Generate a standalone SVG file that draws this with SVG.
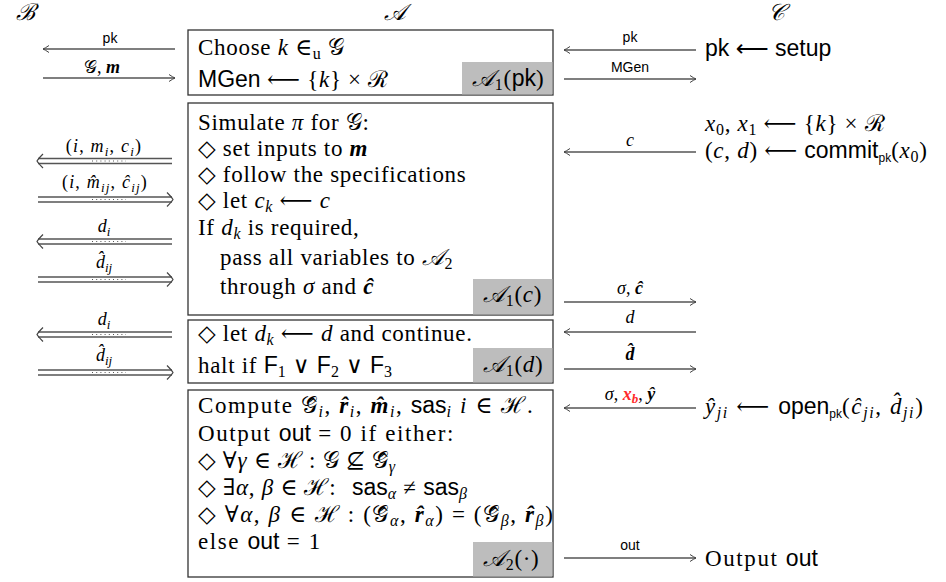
<svg xmlns="http://www.w3.org/2000/svg" width="946" height="582" viewBox="0 0 946 582">
<style>
.rm{font-family:"Liberation Serif","DejaVu Serif",serif;font-size:23px;letter-spacing:0.7px;fill:#000}
.wide{letter-spacing:1.6px}
.sf{font-family:"Liberation Sans","DejaVu Sans",sans-serif;letter-spacing:0}
.it{font-style:italic}
.bi{font-style:italic;font-weight:bold}
.cal{font-family:"DejaVu Serif","Liberation Serif",serif;font-style:italic}
.box{fill:#fff;stroke:#333;stroke-width:1.3}
.tag{fill:#bdbdbd}
.ln{stroke:#555;stroke-width:1.3;fill:none}
.lbl{font-family:"Liberation Serif","DejaVu Serif",serif;font-size:18px;text-anchor:middle}
.slbl{font-family:"Liberation Sans","DejaVu Sans",sans-serif;font-size:14px;text-anchor:middle}
.hd{stroke:#444;stroke-width:1.2;fill:none}
.dots{stroke:#555;stroke-width:1;stroke-dasharray:1 3.2}
</style>
<defs>
<marker id="ar" viewBox="-8 -5 10 10" refX="0" refY="0" markerWidth="10" markerHeight="10" markerUnits="userSpaceOnUse" orient="auto">
<path d="M-6,-3.5 Q-2,-0.8 0,0 Q-2,0.8 -6,3.5" fill="none" stroke="#444" stroke-width="1"/>
</marker>
<path id="dhl" d="M6,-7 Q1.5,-2.5 0,0 Q1.5,2.5 6,7"/>
<path id="dhr" d="M-6,-7 Q-1.5,-2.5 0,0 Q-1.5,2.5 -6,7"/>
</defs>

<g id="headers" class="rm">
<text x="16" y="20" class="cal" font-size="23">ℬ</text>
<text x="395" y="20" class="cal" font-size="23" text-anchor="middle">𝒜</text>
<text x="777" y="20" class="cal" font-size="23" text-anchor="middle">𝒞</text>
</g>

<g id="box1">
<rect class="box" x="188" y="30" width="365" height="65"/>
<rect class="tag" x="462" y="62" width="90.4" height="32.4"/>
<text class="rm" x="198" y="55">Choose <tspan class="it">k</tspan> ∈<tspan font-size="16" dy="4">u</tspan><tspan dy="-4"> 𝒢</tspan></text>
<text class="rm" x="198" y="87"><tspan class="sf">MGen</tspan> ⟵ {<tspan class="it">k</tspan>} × ℛ</text>
<text class="rm" x="472" y="86"><tspan class="cal">𝒜</tspan><tspan font-size="16" dy="4">1</tspan><tspan dy="-4">(</tspan><tspan class="sf">pk</tspan>)</text>
</g>

<g id="box2">
<rect class="box" x="188" y="103" width="365" height="212"/>
<rect class="tag" x="473" y="279" width="79.4" height="35.4"/>
<text class="rm" x="198" y="130">Simulate <tspan class="it">π</tspan> for 𝒢:</text>
<text class="rm" x="198" y="156">◇ set inputs to <tspan class="bi">m</tspan></text>
<text class="rm" x="198" y="182">◇ follow the specifications</text>
<text class="rm" x="198" y="208">◇ let <tspan class="it">c</tspan><tspan class="it" font-size="16" dy="4">k</tspan><tspan dy="-4"> ⟵ </tspan><tspan class="it">c</tspan></text>
<text class="rm" x="198" y="235">If <tspan class="it">d</tspan><tspan class="it" font-size="16" dy="4">k</tspan><tspan dy="-4"> is required,</tspan></text>
<text class="rm" x="220" y="265">pass all variables to <tspan class="cal">𝒜</tspan><tspan font-size="16" dy="4">2</tspan></text>
<text class="rm" x="220" y="294">through <tspan class="it">σ</tspan> and <tspan class="bi">ĉ</tspan></text>
<text class="rm" x="483" y="302"><tspan class="cal">𝒜</tspan><tspan font-size="16" dy="4">1</tspan><tspan dy="-4">(</tspan><tspan class="it">c</tspan>)</text>
</g>

<g id="box3">
<rect class="box" x="188" y="320" width="365" height="63"/>
<rect class="tag" x="473" y="348" width="79.4" height="34.4"/>
<text class="rm" x="198" y="341">◇ let <tspan class="it">d</tspan><tspan class="it" font-size="16" dy="4">k</tspan><tspan dy="-4"> ⟵ </tspan><tspan class="it">d</tspan> and continue.</text>
<text class="rm" x="198" y="373">halt if <tspan class="sf">F</tspan><tspan font-size="16" dy="4">1</tspan><tspan dy="-4"> ∨ </tspan><tspan class="sf">F</tspan><tspan font-size="16" dy="4">2</tspan><tspan dy="-4"> ∨ </tspan><tspan class="sf">F</tspan><tspan font-size="16" dy="4">3</tspan></text>
<text class="rm" x="483" y="372"><tspan class="cal">𝒜</tspan><tspan font-size="16" dy="4">1</tspan><tspan dy="-4">(</tspan><tspan class="it">d</tspan>)</text>
</g>

<g id="box4">
<rect class="box" x="188" y="390" width="365" height="187"/>
<rect class="tag" x="473" y="542" width="79.4" height="34.4"/>
<text class="rm wide" x="198" y="413">Compute 𝒢̂<tspan class="it" font-size="16" dy="4">i</tspan><tspan dy="-4">, </tspan><tspan class="bi">r̂</tspan><tspan class="it" font-size="16" dy="4">i</tspan><tspan dy="-4">, </tspan><tspan class="bi">m̂</tspan><tspan class="it" font-size="16" dy="4">i</tspan><tspan dy="-4">, </tspan><tspan class="sf">sas</tspan><tspan class="it" font-size="16" dy="4">i</tspan><tspan dy="-4">  </tspan><tspan class="it">i</tspan> ∈ ℋ.</text>
<text class="rm wide" x="198" y="441">Output <tspan class="sf">out</tspan> = 0 if either:</text>
<text class="rm" x="198" y="468">◇ ∀<tspan class="it">γ</tspan> ∈ ℋ : 𝒢 ⊈ 𝒢̂<tspan class="it" font-size="16" dy="4">γ</tspan></text>
<text class="rm" x="198" y="495">◇ ∃<tspan class="it">α</tspan>, <tspan class="it">β</tspan> ∈ ℋ:<tspan x="352" class="sf">sas</tspan><tspan class="it" font-size="16" dy="4">α</tspan><tspan dy="-4"> ≠ </tspan><tspan class="sf">sas</tspan><tspan class="it" font-size="16" dy="4">β</tspan></text>
<text class="rm wide" x="198" y="522">◇ ∀<tspan class="it">α</tspan>, <tspan class="it">β</tspan> ∈ ℋ : (𝒢̂<tspan class="it" font-size="16" dy="4">α</tspan><tspan dy="-4">, </tspan><tspan class="bi">r̂</tspan><tspan class="it" font-size="16" dy="4">α</tspan><tspan dy="-4">) = (𝒢̂</tspan><tspan class="it" font-size="16" dy="4">β</tspan><tspan dy="-4">, </tspan><tspan class="bi">r̂</tspan><tspan class="it" font-size="16" dy="4">β</tspan><tspan dy="-4">)</tspan></text>
<text class="rm wide" x="198" y="549">else <tspan class="sf">out</tspan> = 1</text>
<text class="rm" x="483" y="566"><tspan class="cal">𝒜</tspan><tspan font-size="16" dy="4">2</tspan><tspan dy="-4">(·)</tspan></text>
</g>

<g id="party-C" class="rm">
<text x="705" y="56" class="sf">pk ⟵ setup</text>
<text x="705" y="131"><tspan class="it">x</tspan><tspan font-size="16" dy="4">0</tspan><tspan dy="-4">, </tspan><tspan class="it">x</tspan><tspan font-size="16" dy="4">1</tspan><tspan dy="-4"> ⟵ {</tspan><tspan class="it">k</tspan>} × ℛ</text>
<text x="705" y="158">(<tspan class="it">c</tspan>, <tspan class="it">d</tspan>) ⟵ <tspan class="sf">commit</tspan><tspan class="sf" font-size="12" dy="4">pk</tspan><tspan dy="-4">(</tspan><tspan class="it">x</tspan><tspan font-size="16" dy="4">0</tspan><tspan dy="-4">)</tspan></text>
<text x="705" y="414" class="wide"><tspan class="it">ŷ</tspan><tspan class="it" font-size="16" dy="4">ji</tspan><tspan dy="-4"> ⟵ </tspan><tspan class="sf">open</tspan><tspan class="sf" font-size="12" dy="4">pk</tspan><tspan dy="-4">(</tspan><tspan class="it">ĉ</tspan><tspan class="it" font-size="16" dy="4">ji</tspan><tspan dy="-4">, </tspan><tspan class="it">d̂</tspan><tspan class="it" font-size="16" dy="4">ji</tspan><tspan dy="-4">)</tspan></text>
<text x="705" y="566" class="wide">Output <tspan class="sf">out</tspan></text>
</g>

<g id="connectors">
<line class="ln" x1="175" y1="49" x2="43" y2="49" marker-end="url(#ar)"/>
<text class="slbl" x="110" y="43">pk</text>
<line class="ln" x1="43" y1="78" x2="175" y2="78" marker-end="url(#ar)"/>
<text class="lbl" x="102" y="73">𝒢, <tspan class="bi">m</tspan></text>

<g>
<line class="ln" x1="172" y1="158.5" x2="38" y2="158.5"/><line class="ln" x1="172" y1="163.5" x2="38" y2="163.5"/>
<use href="#dhl" x="37" y="161" class="hd"/>
<line class="dots" x1="92" y1="161" x2="126" y2="161"/>
<text class="lbl" x="104" y="152" letter-spacing="1.2">(<tspan class="it">i</tspan>, <tspan class="it">m</tspan><tspan class="it" font-size="13" dy="4">i</tspan><tspan dy="-4">, </tspan><tspan class="it">c</tspan><tspan class="it" font-size="13" dy="4">i</tspan><tspan dy="-4">)</tspan></text>
</g>
<g>
<line class="ln" x1="38" y1="197" x2="172" y2="197"/><line class="ln" x1="38" y1="202" x2="172" y2="202"/>
<use href="#dhr" x="173" y="199.5" class="hd"/>
<line class="dots" x1="92" y1="199.5" x2="126" y2="199.5"/>
<text class="lbl" x="105" y="188" letter-spacing="1.2">(<tspan class="it">i</tspan>, <tspan class="it">m̂</tspan><tspan class="it" font-size="13" dy="4">ij</tspan><tspan dy="-4">, </tspan><tspan class="it">ĉ</tspan><tspan class="it" font-size="13" dy="4">ij</tspan><tspan dy="-4">)</tspan></text>
</g>
<g>
<line class="ln" x1="172" y1="239" x2="38" y2="239"/><line class="ln" x1="172" y1="244" x2="38" y2="244"/>
<use href="#dhl" x="37" y="241.5" class="hd"/>
<line class="dots" x1="92" y1="241.5" x2="126" y2="241.5"/>
<text class="lbl" x="104" y="232"><tspan class="it">d</tspan><tspan class="it" font-size="13" dy="4">i</tspan></text>
</g>
<g>
<line class="ln" x1="38" y1="277" x2="172" y2="277"/><line class="ln" x1="38" y1="282" x2="172" y2="282"/>
<use href="#dhr" x="173" y="279.5" class="hd"/>
<line class="dots" x1="92" y1="279.5" x2="126" y2="279.5"/>
<text class="lbl" x="104" y="268"><tspan class="it">d̂</tspan><tspan class="it" font-size="13" dy="4">ij</tspan></text>
</g>
<g>
<line class="ln" x1="172" y1="332" x2="38" y2="332"/><line class="ln" x1="172" y1="337" x2="38" y2="337"/>
<use href="#dhl" x="37" y="334.5" class="hd"/>
<line class="dots" x1="92" y1="334.5" x2="126" y2="334.5"/>
<text class="lbl" x="104" y="325"><tspan class="it">d</tspan><tspan class="it" font-size="13" dy="4">i</tspan></text>
</g>
<g>
<line class="ln" x1="38" y1="370" x2="172" y2="370"/><line class="ln" x1="38" y1="375" x2="172" y2="375"/>
<use href="#dhr" x="173" y="372.5" class="hd"/>
<line class="dots" x1="92" y1="372.5" x2="126" y2="372.5"/>
<text class="lbl" x="104" y="361"><tspan class="it">d̂</tspan><tspan class="it" font-size="13" dy="4">ij</tspan></text>
</g>

<line class="ln" x1="696" y1="50" x2="564" y2="50" marker-end="url(#ar)"/>
<text class="slbl" x="630" y="42">pk</text>
<line class="ln" x1="564" y1="79" x2="696" y2="79" marker-end="url(#ar)"/>
<text class="slbl" x="630" y="72">MGen</text>
<line class="ln" x1="696" y1="152" x2="564" y2="152" marker-end="url(#ar)"/>
<text class="lbl" x="630" y="146"><tspan class="it">c</tspan></text>
<line class="ln" x1="564" y1="302" x2="696" y2="302" marker-end="url(#ar)"/>
<text class="lbl" x="630" y="294"><tspan class="it">σ</tspan>, <tspan class="bi">ĉ</tspan></text>
<line class="ln" x1="696" y1="332" x2="564" y2="332" marker-end="url(#ar)"/>
<text class="lbl" x="630" y="323"><tspan class="it">d</tspan></text>
<line class="ln" x1="564" y1="369" x2="696" y2="369" marker-end="url(#ar)"/>
<text class="lbl" x="630" y="360"><tspan class="bi">d̂</tspan></text>
<line class="ln" x1="696" y1="408" x2="564" y2="408" marker-end="url(#ar)"/>
<text class="lbl" x="630" y="400"><tspan class="it">σ</tspan>, <tspan class="bi" fill="#ff2a2a">x</tspan><tspan class="bi" fill="#ff2a2a" font-size="13" dy="3">b</tspan><tspan dy="-3">, </tspan><tspan class="bi">ŷ</tspan></text>
<line class="ln" x1="564" y1="558" x2="696" y2="558" marker-end="url(#ar)"/>
<text class="slbl" x="630" y="550">out</text>
</g>
</svg>
